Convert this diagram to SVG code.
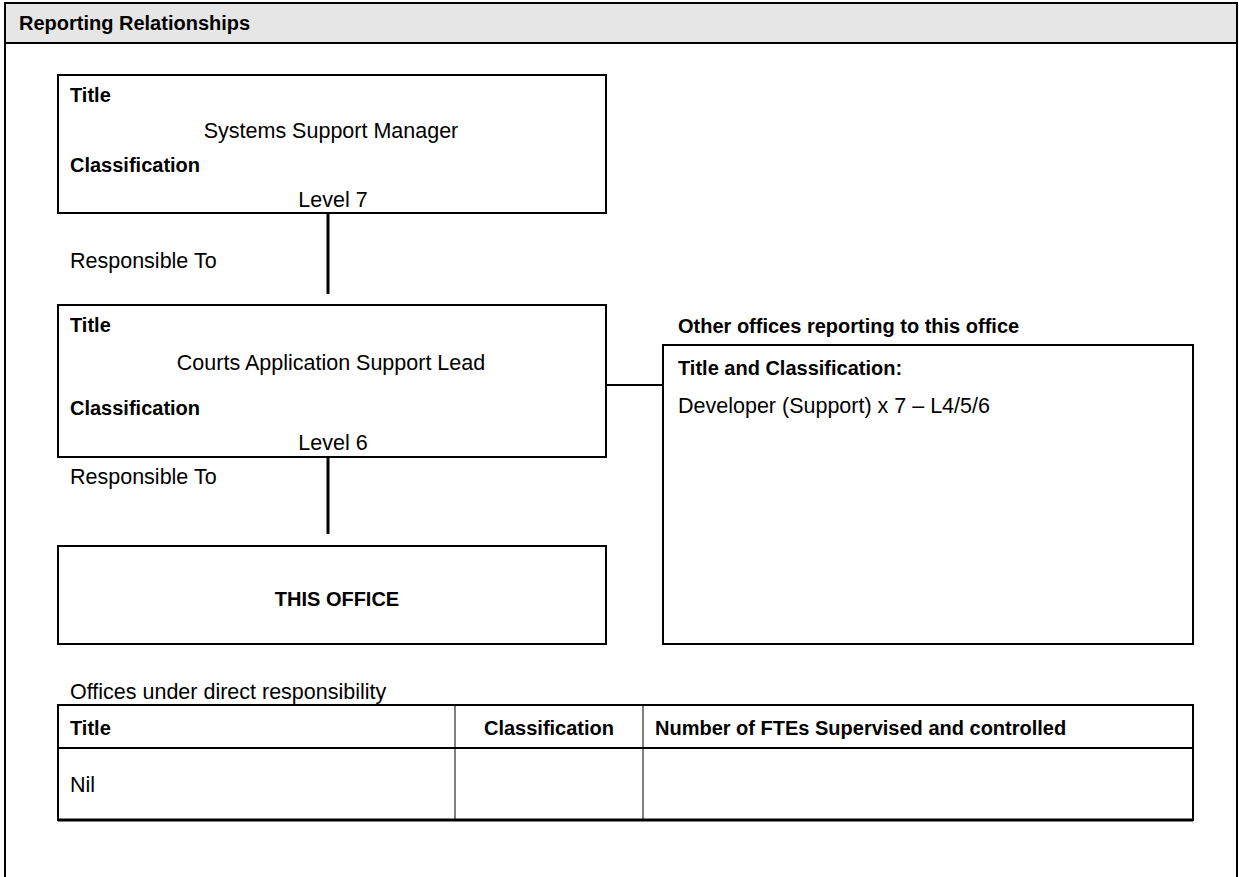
<svg xmlns="http://www.w3.org/2000/svg" width="1239" height="877" viewBox="0 0 1239 877">
<style>
  text { font-family: "Liberation Sans", Arial, sans-serif; fill: #000; }
  .r { font-size: 21.5px; }
  .b { font-size: 20px; font-weight: bold; }
  .c { text-anchor: middle; }
  .box { fill: #fff; stroke: #000; stroke-width: 2; }
  .conn { stroke: #000; fill: none; }
</style>
<rect x="0" y="0" width="1239" height="877" fill="#fff"/>
<g id="frame">
  <rect x="5" y="3" width="1232" height="40" fill="#e6e6e6"/>
  <path d="M5,900 V3 H1237 V900" fill="none" stroke="#000" stroke-width="2"/>
  <line x1="5" y1="43" x2="1237" y2="43" stroke="#000" stroke-width="2"/>
  <text class="b" x="19" y="30">Reporting Relationships</text>
</g>
<g id="connectors">
  <line class="conn" x1="328" y1="213" x2="328" y2="294" stroke-width="3"/>
  <line class="conn" x1="328" y1="457" x2="328" y2="534" stroke-width="3"/>
  <line class="conn" x1="606" y1="385" x2="663" y2="385" stroke-width="2"/>
</g>
<g id="node-manager">
  <rect class="box" x="58" y="75" width="548" height="138"/>
  <text class="b" x="70" y="102">Title</text>
  <text class="r c" x="331" y="138">Systems Support Manager</text>
  <text class="b" x="70" y="172">Classification</text>
  <text class="r c" x="333" y="207">Level 7</text>
</g>
<text id="label-resp1" class="r" x="70" y="268">Responsible To</text>
<g id="node-lead">
  <rect class="box" x="58" y="305" width="548" height="152"/>
  <text class="b" x="70" y="332">Title</text>
  <text class="r c" x="331" y="370">Courts Application Support Lead</text>
  <text class="b" x="70" y="415">Classification</text>
  <text class="r c" x="333" y="450">Level 6</text>
</g>
<text id="label-resp2" class="r" x="70" y="484">Responsible To</text>
<g id="node-this-office">
  <rect class="box" x="58" y="546" width="548" height="98"/>
  <text class="b c" x="337" y="606">THIS OFFICE</text>
</g>
<g id="node-other-offices">
  <text class="b" x="678" y="333">Other offices reporting to this office</text>
  <rect class="box" x="663" y="345" width="530" height="299"/>
  <text class="b" x="678" y="375">Title and Classification:</text>
  <text class="r" x="678" y="413">Developer (Support) x 7 – L4/5/6</text>
</g>
<g id="table-offices">
  <text class="r" x="70" y="699">Offices under direct responsibility</text>
  <rect x="58" y="705" width="1135" height="115" fill="none" stroke="#000" stroke-width="2"/>
  <line x1="58" y1="748" x2="1193" y2="748" stroke="#000" stroke-width="2"/>
  <line x1="58" y1="820" x2="1193" y2="820" stroke="#000" stroke-width="3"/>
  <line x1="455" y1="705" x2="455" y2="820" stroke="#000" stroke-width="1"/>
  <line x1="643" y1="705" x2="643" y2="820" stroke="#000" stroke-width="1"/>
  <text class="b" x="70" y="735">Title</text>
  <text class="b c" x="549" y="735">Classification</text>
  <text class="b" x="655" y="735">Number of FTEs Supervised and controlled</text>
  <text class="r" x="70" y="792">Nil</text>
</g>
</svg>
